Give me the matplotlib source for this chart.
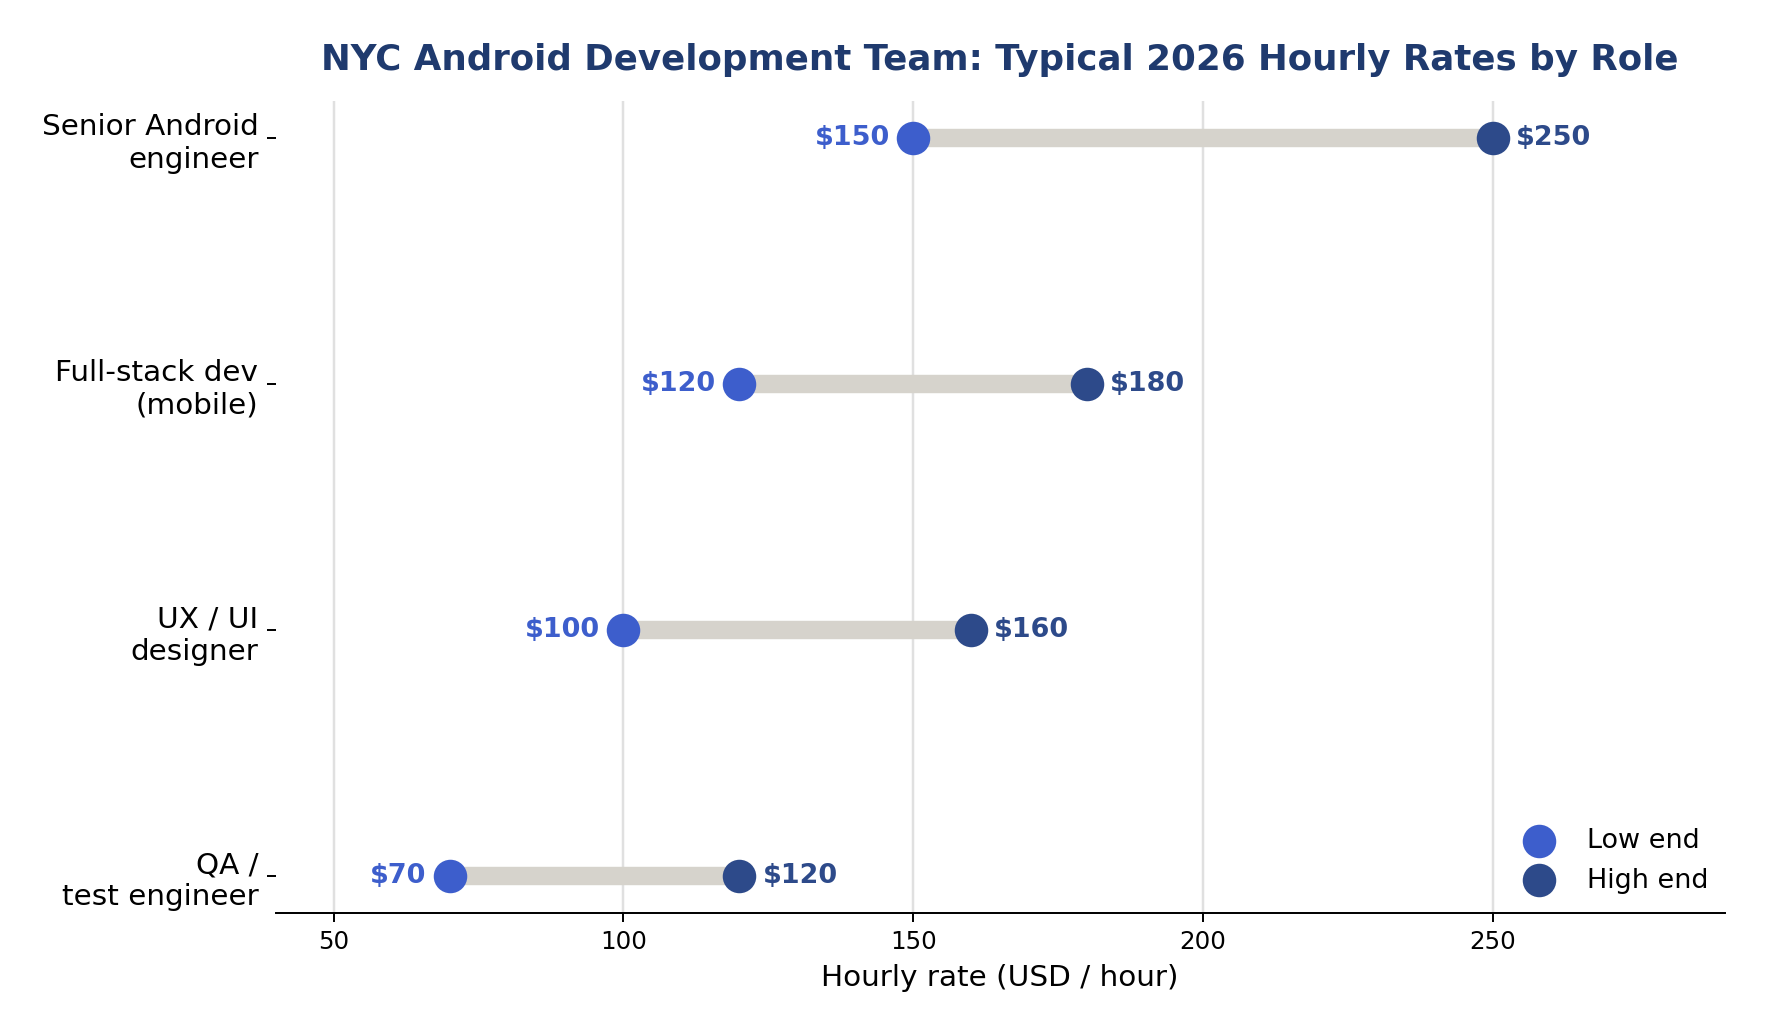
import numpy as np
import matplotlib.pyplot as plt

# Data
roles = ["QA /\ntest engineer", "UX / UI\ndesigner", "Full-stack dev\n(mobile)", "Senior Android\nengineer"]
low_rates = [70, 100, 120, 150]
high_rates = [120, 160, 180, 250]
x_ticks = [50, 100, 150, 200, 250]

low_color = "#3d5ecc"
high_color = "#2d4a8a"
bar_color = "#d6d3cc"
title_color = "#1f3a6e"

fig, ax = plt.subplots(figsize=(10, 5.858), dpi=176.7)
fig.subplots_adjust(left=0.156, right=0.976, bottom=0.118, top=0.902)

y = np.arange(len(roles))

# connecting bars
ax.hlines(y, low_rates, high_rates, color=bar_color, linewidth=7.5, zorder=2)

# end points
ax.scatter(low_rates, y, s=160, color=low_color, zorder=3, label="Low end")
ax.scatter(high_rates, y, s=160, color=high_color, zorder=3, label="High end")

# value labels
for yi, lo, hi in zip(y, low_rates, high_rates):
    ax.text(lo - 4, yi, f"${lo}", ha="right", va="center", color=low_color,
            fontsize=11, fontweight="bold")
    ax.text(hi + 4, yi, f"${hi}", ha="left", va="center", color=high_color,
            fontsize=11, fontweight="bold")

ax.set_yticks(y)
ax.set_yticklabels(roles, fontsize=12)
ax.set_xticks(x_ticks)
ax.tick_params(axis="x", labelsize=10)
ax.set_xlim(40, 290)
ax.set_ylim(-0.15, 3.15)

ax.grid(axis="x", color="#e0e0e0", linewidth=1)
ax.set_axisbelow(True)
for side in ["top", "right", "left"]:
    ax.spines[side].set_visible(False)

ax.set_xlabel("Hourly rate (USD / hour)", fontsize=12)
ax.set_title("NYC Android Development Team: Typical 2026 Hourly Rates by Role",
             fontsize=14.5, fontweight="bold", color=title_color, pad=13)

ax.legend(loc="lower right", bbox_to_anchor=(1.006, -0.006), frameon=False, fontsize=11)

plt.savefig("out.png", dpi=176.7)
